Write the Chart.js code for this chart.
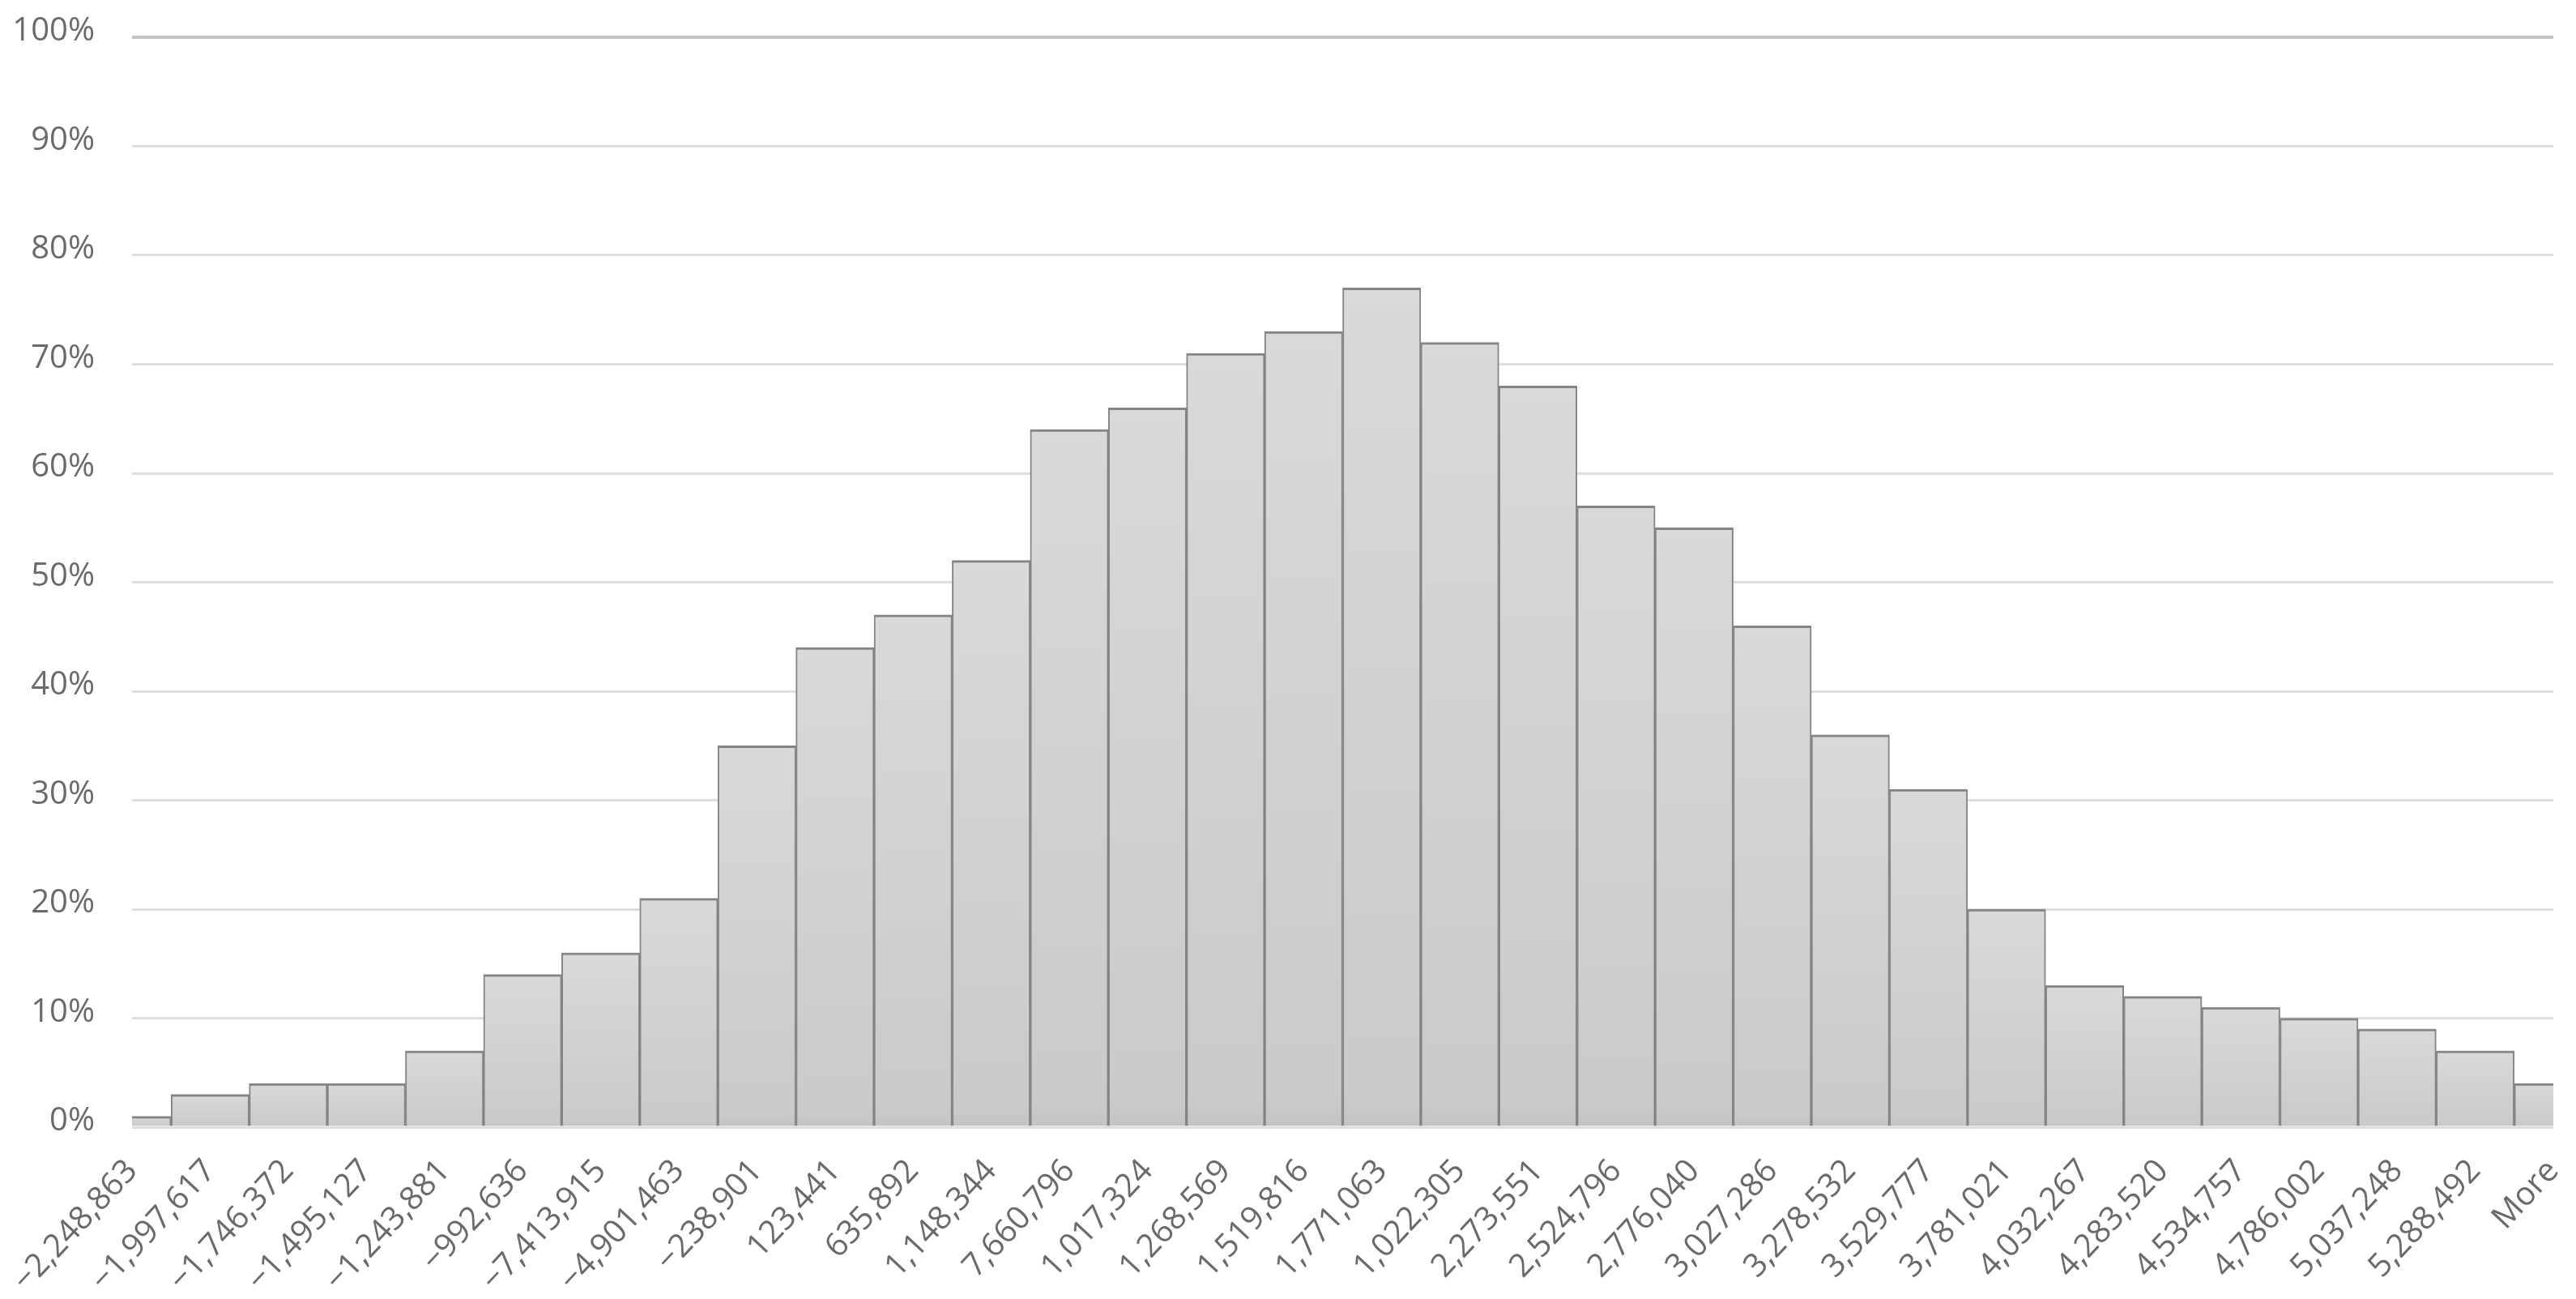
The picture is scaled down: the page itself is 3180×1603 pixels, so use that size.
<!DOCTYPE html>
<html>
<head>
<meta charset="utf-8">
<script src="https://cdn.jsdelivr.net/npm/chart.js@4.4.1/dist/chart.umd.min.js"></script>
<style>
html,body{margin:0;padding:0;background:#ffffff;}
#wrap{width:3180px;height:1603px;position:relative;}
</style>
</head>
<body>
<div id="wrap"><canvas id="c" width="3180" height="1603"></canvas></div>
<script>
const categories = [
  "−2,248,863","−1,997,617","−1,746,372","−1,495,127","−1,243,881","−992,636",
  "−7,413,915","−4,901,463","−238,901","123,441","635,892","1,148,344",
  "7,660,796","1,017,324","1,268,569","1,519,816","1,771,063","1,022,305",
  "2,273,551","2,524,796","2,776,040","3,027,286","3,278,532","3,529,777",
  "3,781,021","4,032,267","4,283,520","4,534,757","4,786,002","5,037,248",
  "5,288,492","More"
];
const percentValues = [
  1, 3, 4, 4, 7, 14, 16, 21, 35, 44, 47, 52, 64, 66, 71, 73,
  77, 72, 68, 57, 55, 46, 36, 31, 20, 13, 12, 11, 10, 9, 7, 4
];
const yTickValues = [0, 10, 20, 30, 40, 50, 60, 70, 80, 90, 100];

const FONT = "'Open Sans', 'Noto Sans', sans-serif";
const TEXT = '#6a6a6a';

function barFill(ctx) {
  const chart = ctx.chart;
  const area = chart.chartArea;
  if (!area || !ctx.parsed) return '#d2d2d2';
  const yScale = chart.scales.y;
  const top = yScale.getPixelForValue(ctx.parsed.y);
  const bottom = yScale.getPixelForValue(0);
  if (!isFinite(top) || bottom - top < 1) return '#d2d2d2';
  const g = chart.ctx.createLinearGradient(0, top, 0, bottom);
  g.addColorStop(0, '#d9d9d9');
  g.addColorStop(0.97, '#cacaca');
  g.addColorStop(1, '#c2c2c2');
  return g;
}

new Chart(document.getElementById('c'), {
  type: 'bar',
  data: {
    labels: categories,
    datasets: [{
      data: percentValues,
      backgroundColor: barFill,
      borderColor: '#848484',
      borderWidth: { top: 3, left: 2, right: 2, bottom: 0 },
      borderSkipped: false,
      barPercentage: 1,
      categoryPercentage: 1,
      clip: 0
    }]
  },
  options: {
    responsive: false,
    animation: false,
    devicePixelRatio: 1,
    layout: { padding: { top: 46, right: 28, bottom: 0, left: 0 } },
    plugins: { legend: { display: false }, tooltip: { enabled: false }, title: { display: false } },
    scales: {
      x: {
        type: 'category',
        offset: false,
        grid: { display: false, drawTicks: false },
        border: { display: false },
        ticks: {
          autoSkip: false,
          maxRotation: 47,
          minRotation: 47,
          padding: 31,
          color: TEXT,
          font: { family: FONT, size: 40 }
        },
        afterFit(scale) {
          scale.height = 212;
          scale.paddingLeft = 0;
          scale.paddingRight = 0;
        }
      },
      y: {
        min: 0,
        max: 100,
        afterBuildTicks(scale) { scale.ticks = yTickValues.map(v => ({ value: v })); },
        grid: {
          drawTicks: false,
          color: (c) => (c.tick && c.tick.value === 100) ? '#c4c4c4' : '#dedede',
          lineWidth: (c) => (c.tick && c.tick.value === 100) ? 4 : 3
        },
        border: { display: false },
        ticks: {
          padding: 46,
          labelOffset: -7,
          color: TEXT,
          font: { family: FONT, size: 40 },
          callback: (v) => v + '%'
        },
        afterFit(scale) {
          scale.width = 163;
          scale.paddingTop = 0;
          scale.paddingBottom = 0;
        }
      }
    }
  }
});
</script>
</body>
</html>
